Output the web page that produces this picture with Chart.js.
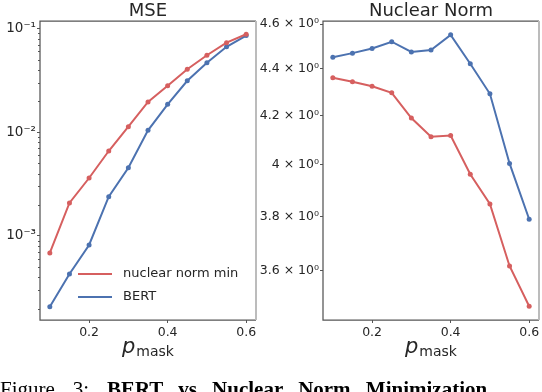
<!DOCTYPE html>
<html><head><meta charset="utf-8">
<script src="https://cdn.jsdelivr.net/npm/chart.js@4.4.1/dist/chart.umd.min.js"></script>
<style>
html,body{margin:0;padding:0;background:#fff;overflow:hidden;width:542px;height:392px;}
#c1{position:absolute;left:0;top:0;}
#c2{position:absolute;left:258px;top:0;}
#cap{position:absolute;left:0;top:379.4px;font-family:"Liberation Serif","Times New Roman",serif;font-size:21px;line-height:21px;white-space:nowrap;color:#000;word-spacing:12.6px;}
#cap b{word-spacing:10px;}
</style></head><body>
<canvas id="c1" width="270" height="392"></canvas>
<canvas id="c2" width="284" height="392"></canvas>
<div id="cap">Figure 3: <b>BERT vs Nuclear Norm Minimization</b></div>
<script>
// ---- data ----
const pMask = [0.1, 0.15, 0.2, 0.25, 0.3, 0.35, 0.4, 0.45, 0.5, 0.55, 0.6];
const seriesNames = ["nuclear norm min", "BERT"];
const mseNuclear = [6.86e-4, 2.08e-3, 3.62e-3, 6.59e-3, 0.0113, 0.0196, 0.0281, 0.0404, 0.0552, 0.0730, 0.0879];
const mseBert    = [2.08e-4, 4.30e-4, 8.19e-4, 2.39e-3, 4.55e-3, 0.01044, 0.01858, 0.0313, 0.0467, 0.0665, 0.0853];
const nnNuclear  = [4.361, 4.344, 4.324, 4.296, 4.190, 4.113, 4.118, 3.962, 3.847, 3.617, 3.475];
const nnBert     = [4.451, 4.469, 4.490, 4.520, 4.474, 4.483, 4.551, 4.422, 4.292, 4.005, 3.789];
const xTicks = [0.2, 0.4, 0.6];
const xTickLabels = ["0.2", "0.4", "0.6"];
const mseTicks = [1e-3, 1e-2, 1e-1];
const mseTickLabels = ["10\u207B\u00B3", "10\u207B\u00B2", "10\u207B\u00B9"];
const nnTicks = [3.6, 3.8, 4.0, 4.2, 4.4, 4.6];
const nnTickLabels = ["3.6 \u00D7 10\u2070", "3.8 \u00D7 10\u2070", "4 \u00D7 10\u2070", "4.2 \u00D7 10\u2070", "4.4 \u00D7 10\u2070", "4.6 \u00D7 10\u2070"];
const mseMinor = [2e-4,3e-4,4e-4,5e-4,6e-4,7e-4,8e-4,9e-4,2e-3,3e-3,4e-3,5e-3,6e-3,7e-3,8e-3,9e-3,2e-2,3e-2,4e-2,5e-2,6e-2,7e-2,8e-2,9e-2];

const RED = "#d65f5f", BLUE = "#4c72b0", TXT = "#262626", SPINE = "#555555";
const FONT = '"DejaVu Sans", sans-serif';

const decor = {
  id: 'decor',
  afterDraw(chart, args, o) {
    const {ctx, chartArea: a} = chart;
    const ys = chart.scales.y;
    ctx.save();
    // minor ticks
    ctx.strokeStyle = SPINE; ctx.lineWidth = 1;
    (o.minor || []).forEach(v => {
      const y = Math.round(ys.getPixelForValue(v)) + 0.5;
      ctx.beginPath(); ctx.moveTo(a.left - 2, y); ctx.lineTo(a.left, y); ctx.stroke();
    });
    // spines
    ctx.lineWidth = 1.25; ctx.strokeStyle = SPINE;
    ctx.beginPath();
    ctx.moveTo(a.right, a.bottom); ctx.lineTo(a.left, a.bottom);
    ctx.lineTo(a.left, a.top); ctx.lineTo(a.right, a.top);
    ctx.stroke();
    ctx.lineWidth = 2; ctx.strokeStyle = "#bcbcbc";
    ctx.beginPath(); ctx.moveTo(a.right, a.top); ctx.lineTo(a.right, a.bottom); ctx.stroke();
    // title
    const cx = (a.left + a.right) / 2;
    ctx.fillStyle = TXT; ctx.textAlign = 'center'; ctx.textBaseline = 'alphabetic';
    ctx.font = '18px ' + FONT;
    ctx.fillText(o.title, cx, 16);
    // x label p_mask
    ctx.textAlign = 'left';
    ctx.font = 'italic 21px ' + FONT;
    const wp = ctx.measureText('p').width;
    ctx.font = '14px ' + FONT;
    const wm = ctx.measureText('mask').width;
    const x0 = cx - (wp + 1 + wm) / 2;
    ctx.font = 'italic 21px ' + FONT;
    ctx.fillText('p', x0, 353);
    ctx.font = '14px ' + FONT;
    ctx.fillText('mask', x0 + wp + 1, 356);
    // legend
    if (o.legend) {
      const rows = [[RED, seriesNames[0], 274], [BLUE, seriesNames[1], 297]];
      ctx.font = '13px ' + FONT; ctx.textBaseline = 'middle';
      rows.forEach(([c, t, y]) => {
        ctx.strokeStyle = c; ctx.lineWidth = 2;
        ctx.beginPath(); ctx.moveTo(78, y); ctx.lineTo(112, y); ctx.stroke();
        ctx.fillStyle = TXT; ctx.fillText(t, 123, y);
      });
    }
    ctx.restore();
  }
};

function ds(label, color, ys) {
  return {
    label, data: pMask.map((x, i) => ({x, y: ys[i]})),
    borderColor: color, backgroundColor: color,
    pointBackgroundColor: color, pointBorderColor: color,
    borderWidth: 2, pointRadius: 2.5, pointHoverRadius: 2.5, pointBorderWidth: 0, tension: 0
  };
}

function makeChart(id, cfg) {
  return new Chart(document.getElementById(id), {
    type: 'line',
    data: { datasets: [ds(seriesNames[0], RED, cfg.red), ds(seriesNames[1], BLUE, cfg.blue)] },
    options: {
      responsive: false, animation: false, devicePixelRatio: 1,
      layout: { padding: { top: 21, right: cfg.padRight, left: 0, bottom: 0 } },
      plugins: {
        legend: { display: false }, tooltip: { enabled: false }, title: { display: false },
        decor: { title: cfg.title, legend: cfg.legend, minor: cfg.minor }
      },
      scales: {
        x: {
          type: 'linear', min: 0.075, max: 0.625, bounds: 'data',
          afterBuildTicks: s => { s.ticks = xTicks.map(v => ({value: v})); },
          afterFit: s => { s.height = 72; },
          ticks: {
            autoSkip: false, maxRotation: 0, padding: 2, color: TXT,
            font: { family: FONT, size: 12.5 },
            callback: v => xTickLabels[xTicks.findIndex(t => Math.abs(t - v) < 1e-9)]
          },
          grid: { drawOnChartArea: false, drawTicks: true, tickLength: 3, color: SPINE, lineWidth: 1 },
          border: { display: false }
        },
        y: {
          type: 'logarithmic', min: cfg.ymin, max: cfg.ymax, bounds: 'data',
          afterBuildTicks: s => { s.ticks = cfg.ticks.map(v => ({value: v, major: true})); },
          afterFit: s => { s.width = cfg.yWidth; },
          ticks: {
            autoSkip: false, padding: 1, color: TXT,
            font: { family: FONT, size: cfg.yFont },
            callback: v => cfg.labels[cfg.ticks.findIndex(t => Math.abs(t - v) / t < 1e-6)]
          },
          grid: { drawOnChartArea: false, drawTicks: true, tickLength: 3, color: SPINE, lineWidth: 1 },
          border: { display: false }
        }
      }
    },
    plugins: [decor]
  });
}

makeChart('c1', {
  red: mseNuclear, blue: mseBert, title: 'MSE', legend: true, minor: mseMinor,
  ymin: 1.55e-4, ymax: 0.118, ticks: mseTicks, labels: mseTickLabels,
  yWidth: 40, padRight: 14, yFont: 13.5
});
makeChart('c2', {
  red: nnNuclear, blue: nnBert, title: 'Nuclear Norm', legend: false, minor: [],
  ymin: 3.428, ymax: 4.614, ticks: nnTicks, labels: nnTickLabels,
  yWidth: 65, padRight: 3, yFont: 12.5
});
</script>
</body></html>
